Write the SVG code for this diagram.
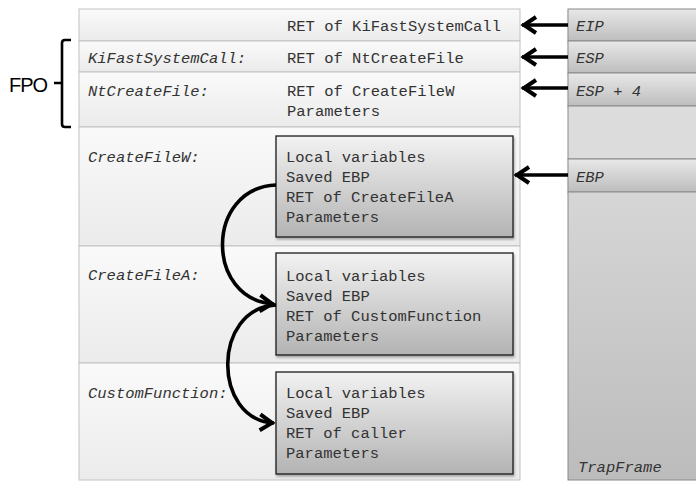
<svg xmlns="http://www.w3.org/2000/svg" width="696" height="483" viewBox="0 0 696 483">
<defs>
<linearGradient id="gRow" x1="0" y1="0" x2="0" y2="1"><stop offset="0" stop-color="#fafafa"/><stop offset="1" stop-color="#ebebeb"/></linearGradient>
<linearGradient id="gBox" x1="0" y1="0" x2="0" y2="1"><stop offset="0" stop-color="#f2f2f2"/><stop offset="1" stop-color="#b3b3b3"/></linearGradient>
<linearGradient id="gReg" x1="0" y1="0" x2="0" y2="1"><stop offset="0" stop-color="#e8e8e8"/><stop offset="1" stop-color="#bdbdbd"/></linearGradient>
<linearGradient id="gBig" x1="0" y1="0" x2="0" y2="1"><stop offset="0" stop-color="#d6d6d6"/><stop offset="1" stop-color="#bcbcbc"/></linearGradient>
<filter id="sh" x="-5%" y="-5%" width="110%" height="120%"><feDropShadow dx="1" dy="2" stdDeviation="1.2" flood-color="#000" flood-opacity="0.3"/></filter>
<marker id="ah" viewBox="-18 -11 20 22" refX="0" refY="0" markerWidth="20" markerHeight="22" markerUnits="userSpaceOnUse" orient="auto">
<path d="M-14,-8 L-2,0 L-14,8" fill="none" stroke="#000" stroke-width="4"/>
</marker>
<style>
.row{fill:url(#gRow);stroke:#c2c2c2;stroke-width:1}
.box{fill:url(#gBox);stroke:#1a1a1a;stroke-width:1.3}
.reg{fill:url(#gReg);stroke:#8a8a8a;stroke-width:1}
.mono{font-family:"Liberation Mono","DejaVu Sans Mono",monospace;font-size:15.5px;fill:#333}
.it{font-style:italic}
.conn{fill:none;stroke:#000;stroke-width:3.6;marker-end:url(#ah)}
</style>
</defs>
<rect width="696" height="483" fill="#fff"/>

<g id="fpo">
<path d="M71,40 L65,40 Q62,40 62,43 L62,124 Q62,127 65,127 L71,127 M62,83 L54,83" fill="none" stroke="#000" stroke-width="2.6"/>
<text x="9" y="92" font-family="Liberation Sans,Arial,sans-serif" font-size="20" textLength="39" fill="#000">FPO</text>
</g>

<g id="stack">
<g id="row-ret-kifast"><rect class="row" x="79" y="9" width="441" height="32"/><text class="mono" x="287" y="31">RET of KiFastSystemCall</text></g>
<g id="row-kifast"><rect class="row" x="79" y="41" width="441" height="31"/><text class="mono it" x="88" y="63">KiFastSystemCall:</text><text class="mono" x="287" y="63">RET of NtCreateFile</text></g>
<g id="row-ntcreate"><rect class="row" x="79" y="72" width="441" height="55"/><text class="mono it" x="88" y="96">NtCreateFile:</text><text class="mono" x="287" y="96">RET of CreateFileW</text><text class="mono" x="287" y="116">Parameters</text></g>
<g id="row-createw"><rect class="row" x="79" y="127" width="441" height="119"/><text class="mono it" x="88" y="162">CreateFileW:</text></g>
<g id="row-createa"><rect class="row" x="79" y="246" width="441" height="117"/><text class="mono it" x="88" y="280">CreateFileA:</text></g>
<g id="row-custom"><rect class="row" x="79" y="363" width="441" height="117"/><text class="mono it" x="88" y="398">CustomFunction:</text></g>
</g>

<g id="frame-createw"><rect class="box" filter="url(#sh)" x="276" y="136" width="237" height="101"/>
<text class="mono" x="286" y="162">Local variables</text><text class="mono" x="286" y="182">Saved EBP</text><text class="mono" x="286" y="202">RET of CreateFileA</text><text class="mono" x="286" y="222">Parameters</text></g>
<g id="frame-createa"><rect class="box" filter="url(#sh)" x="276" y="253" width="237" height="102"/>
<text class="mono" x="286" y="281">Local variables</text><text class="mono" x="286" y="301">Saved EBP</text><text class="mono" x="286" y="321">RET of CustomFunction</text><text class="mono" x="286" y="341">Parameters</text></g>
<g id="frame-custom"><rect class="box" filter="url(#sh)" x="276" y="372" width="237" height="102"/>
<text class="mono" x="286" y="398">Local variables</text><text class="mono" x="286" y="418">Saved EBP</text><text class="mono" x="286" y="438">RET of caller</text><text class="mono" x="286" y="458">Parameters</text></g>

<g id="registers">
<g id="reg-eip"><rect class="reg" filter="url(#sh)" x="568" y="9" width="140" height="32"/><text class="mono it" x="576" y="31">EIP</text></g>
<g id="reg-esp"><rect class="reg" filter="url(#sh)" x="568" y="41" width="140" height="32"/><text class="mono it" x="576" y="63">ESP</text></g>
<g id="reg-esp4"><rect class="reg" filter="url(#sh)" x="568" y="73" width="140" height="33"/><text class="mono it" x="576" y="96">ESP + 4</text></g>
<g id="reg-blank"><rect x="568" y="106" width="140" height="53" fill="#dcdcdc" stroke="#8a8a8a"/></g>
<g id="reg-ebp"><rect class="reg" filter="url(#sh)" x="568" y="159" width="140" height="33"/><text class="mono it" x="576" y="182">EBP</text></g>
<g id="trapframe"><rect x="568" y="192" width="140" height="288" fill="url(#gBig)" stroke="#8a8a8a"/><text class="mono it" x="578" y="472">TrapFrame</text></g>
</g>

<g id="connectors">
<path class="conn" d="M568,25 L522,25"/>
<path class="conn" d="M568,57 L522,57"/>
<path class="conn" d="M568,88 L522,88"/>
<path class="conn" d="M568,175 L515,175"/>
<path class="conn" d="M276,185 C205,188 205,300 274,304"/>
<path class="conn" d="M276,305 C212,308 212,420 274,423"/>
</g>
</svg>
